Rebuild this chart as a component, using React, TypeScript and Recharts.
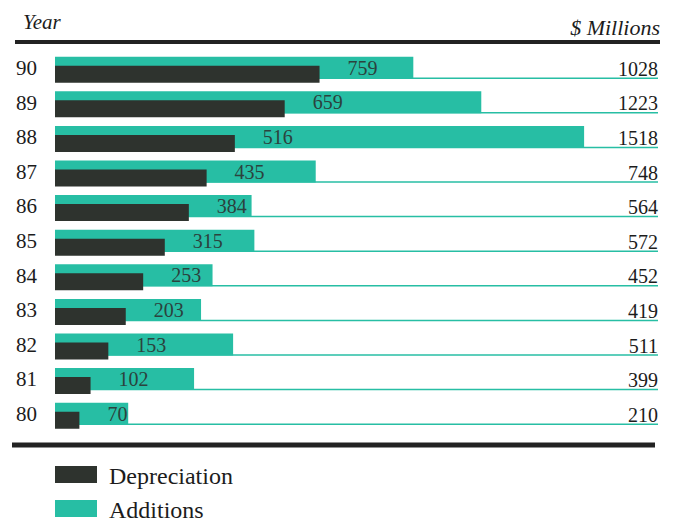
import React from "react";
import { Bar, BarChart, LabelList, XAxis, YAxis } from "recharts";

const years = ["90", "89", "88", "87", "86", "85", "84", "83", "82", "81", "80"];
const depreciation = [759, 659, 516, 435, 384, 315, 253, 203, 153, 102, 70];
const additions = [1028, 1223, 1518, 748, 564, 572, 452, 419, 511, 399, 210];
const seriesNames = ["Depreciation", "Additions"];

const TEAL = "#27bea4";
const DARK = "#2e332e";
const INK = "#1c1c1c";
const SERIF = '"Liberation Serif", "Times New Roman", serif';

const rows = years.map((year, i) => ({
  year,
  depreciation: depreciation[i],
  additions: additions[i],
}));

function YearTick({ x, y, payload }: any) {
  return (
    <text x={x} y={y} dy={5} textAnchor="end" fontSize={21} fill={INK} style={{ fontFamily: SERIF }}>
      {payload.value}
    </text>
  );
}

// full-width background of the additions bar: thin rule under the row + total at the right edge
function RowRule(props: any) {
  const { x, y, width, height, index } = props;
  const base = y + height;
  return (
    <g>
      <line x1={x} x2={x + width} y1={base - 0.5} y2={base - 0.5} stroke={TEAL} strokeWidth={1.5} />
      <text x={x + width} y={base - 3} textAnchor="end" fontSize={20} fill={INK} style={{ fontFamily: SERIF }}>
        {additions[index]}
      </text>
    </g>
  );
}

function DepLabel(p: any) {
  return (
    <text
      x={p.x + p.width + 28}
      y={p.y + 2}
      dy="0.35em"
      fontSize={20}
      fill="#2b423d"
      style={{ fontFamily: SERIF }}
    >
      {p.value}
    </text>
  );
}

export default function App() {
  const swatch = [DARK, TEAL];
  return (
    <div style={{ position: "absolute", left: 0, top: 0, width: 677, height: 525, background: "#fff" }}>
      <div style={{ position: "absolute", left: 0, top: 0 }}>
        <BarChart
          width={677}
          height={525}
          data={rows}
          layout="vertical"
          barGap={-13}
          margin={{ top: 52.7, right: 19, bottom: 91.7, left: 10 }}
        >
          <XAxis type="number" hide domain={[0, 1730]} />
          <YAxis
            type="category"
            dataKey="year"
            width={45}
            axisLine={false}
            tickLine={false}
            tickSize={0}
            tickMargin={18}
            tick={<YearTick />}
            interval={0}
          />
          <Bar
            dataKey="additions"
            name="Additions"
            fill={TEAL}
            barSize={22}
            background={(p: any) => <RowRule {...p} />}
            isAnimationActive={false}
          />
          <Bar
            dataKey="depreciation"
            name="Depreciation"
            fill={DARK}
            barSize={17}
            isAnimationActive={false}
          >
            <LabelList dataKey="depreciation" content={DepLabel} />
          </Bar>
        </BarChart>
      </div>
      <svg
        width={677}
        height={525}
        style={{ position: "absolute", left: 0, top: 0, pointerEvents: "none" }}
      >
        <text x={23} y={29} fontSize={21} fontStyle="italic" fill={INK} style={{ fontFamily: SERIF }}>
          Year
        </text>
        <text x={660} y={35} fontSize={22} fontStyle="italic" textAnchor="end" fill={INK} style={{ fontFamily: SERIF }}>
          $ Millions
        </text>
        <line x1={15} x2={660} y1={42} y2={42} stroke="#222" strokeWidth={4} />
        <line x1={12} x2={655} y1={445} y2={445} stroke="#222" strokeWidth={5} />
        {seriesNames.map((name, i) => (
          <g key={name}>
            <rect x={55} y={466 + i * 34} width={42} height={17} fill={swatch[i]} />
            <text x={109} y={484 + i * 34} fontSize={24} fill={INK} style={{ fontFamily: SERIF }}>
              {name}
            </text>
          </g>
        ))}
      </svg>
    </div>
  );
}
